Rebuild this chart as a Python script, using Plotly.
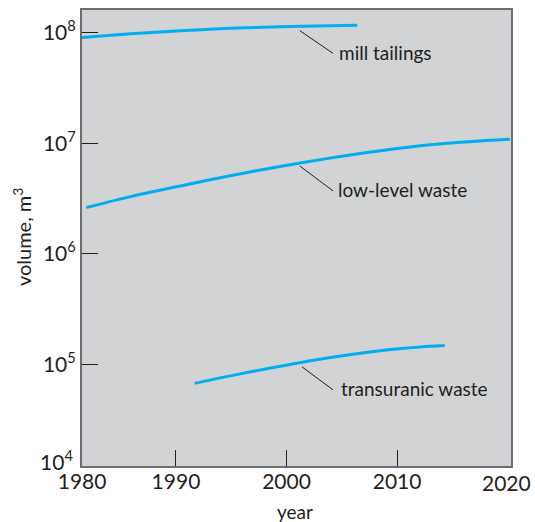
import numpy as np
import plotly.graph_objects as go

# ---- data ----
mill_years = [1981.5, 1985.9, 1990.4, 1994.9, 1999.4, 2003.9, 2006.4]
mill_vals = [9.1e7, 9.8e7, 1.047e8, 1.099e8, 1.137e8, 1.16e8, 1.17e8]

low_years = [1981.9, 1985.9, 1990.4, 1994.9, 1999.4, 2003.9, 2008.5, 2013.0, 2017.5, 2020.2]
low_vals = [2.63e6, 3.30e6, 4.12e6, 5.09e6, 6.19e6, 7.36e6, 8.60e6, 9.73e6, 1.053e7, 1.089e7]

tru_years = [1991.7, 1995.8, 2000.3, 2004.9, 2009.4, 2012.1, 2014.3]
tru_vals = [6.74e4, 8.21e4, 1.0e5, 1.19e5, 1.365e5, 1.44e5, 1.48e5]

series_names = ["mill tailings", "low-level waste", "transuranic waste"]

x_tick_years = ["1980", "1990", "2000", "2010", "2020"]
y_tick_labels = ["10<sup>4</sup>", "10<sup>5</sup>", "10<sup>6</sup>", "10<sup>7</sup>", "10<sup>8</sup>"]

# leader line end points (year, value) and label anchors
leader_start = [(2001.2, 1.047e8), (2001.2, 6.24e6), (2001.4, 9.5e4)]
leader_end = [(2004.2, 6.53e7), (2004.2, 3.72e6), (2004.2, 5.89e4)]
label_pos = [(2004.6, 6.37e7), (2004.5, 3.66e6), (2004.7, 5.77e4)]

# ---- style ----
LINE = "#00aeef"
BG = "#d1d3d4"
FRAME = "#6d6e71"
TXT = "#231f20"
FONT = "Lato"

X_LO, X_HI = 1981.5, 2020.3
Y_LO, Y_HI = 4.081, 8.207

fig = go.Figure()
for yrs, vals, name in [(mill_years, mill_vals, series_names[0]),
                        (low_years, low_vals, series_names[1]),
                        (tru_years, tru_vals, series_names[2])]:
    fig.add_trace(go.Scatter(x=yrs, y=vals, mode="lines", name=name,
                             line=dict(color=LINE, width=3, shape="spline", smoothing=0.8),
                             showlegend=False, hoverinfo="skip"))

for p0, p1, lab, name in zip(leader_start, leader_end, label_pos, series_names):
    fig.add_trace(go.Scatter(x=[p0[0], p1[0]], y=[p0[1], p1[1]], mode="lines",
                             line=dict(color=TXT, width=1), showlegend=False,
                             hoverinfo="skip"))
    fig.add_annotation(x=lab[0], y=np.log10(lab[1]), xref="x", yref="y", yshift=2,
                       text=name, showarrow=False, xanchor="left", yanchor="middle",
                       font=dict(family=FONT, size=19, color=TXT))

# 10^4 label at the bottom of the axis
fig.add_annotation(x=0, y=0, xref="paper", yref="paper", xshift=-7, yshift=6,
                   text=y_tick_labels[0], showarrow=False, xanchor="right", yanchor="middle",
                   font=dict(family=FONT, size=21, color=TXT))
# 2020 label at the right end of the axis
fig.add_annotation(x=1, y=0, xref="paper", yref="paper", xshift=22, yshift=-16,
                   text=x_tick_years[-1], showarrow=False, xanchor="right", yanchor="middle",
                   font=dict(family=FONT, size=21, color=TXT))
# axis titles
fig.add_annotation(x=0.4965, y=-0.1003, xref="paper", yref="paper", text="year",
                   showarrow=False, xanchor="center", yanchor="middle",
                   font=dict(family=FONT, size=19, color=TXT))
fig.add_annotation(x=-0.14, y=0.504, xref="paper", yref="paper", text="volume, m<sup>3</sup>",
                   textangle=-90, showarrow=False, xanchor="center", yanchor="middle",
                   font=dict(family=FONT, size=20, color=TXT))

fig.update_layout(
    width=535, height=522,
    margin=dict(l=82, r=24, t=8, b=56),
    paper_bgcolor="white", plot_bgcolor=BG,
    showlegend=False,
)
fig.update_xaxes(range=[X_LO, X_HI], showgrid=False, zeroline=False,
                 showline=True, mirror=True, linecolor=FRAME, linewidth=2,
                 ticks="inside", ticklen=16, tickwidth=1, tickcolor=TXT,
                 tickvals=[X_LO + 0.01, 1990, 2000, 2010], ticktext=x_tick_years[:-1],
                 ticklabeloverflow="allow", ticklabelstandoff=-4,
                 tickfont=dict(family=FONT, size=21, color=TXT))
fig.update_yaxes(type="log", range=[Y_LO, Y_HI], showgrid=False, zeroline=False,
                 showline=True, mirror=True, linecolor=FRAME, linewidth=2,
                 ticks="inside", ticklen=16, tickwidth=1, tickcolor=TXT,
                 tickvals=[1e5, 1e6, 1e7, 1e8], ticktext=y_tick_labels[1:],
                 ticklabeloverflow="allow",
                 tickfont=dict(family=FONT, size=21, color=TXT))

fig.write_html("out.html", config={"displayModeBar": False},
               post_script="document.body.style.margin='0';document.body.style.overflow='hidden';")
